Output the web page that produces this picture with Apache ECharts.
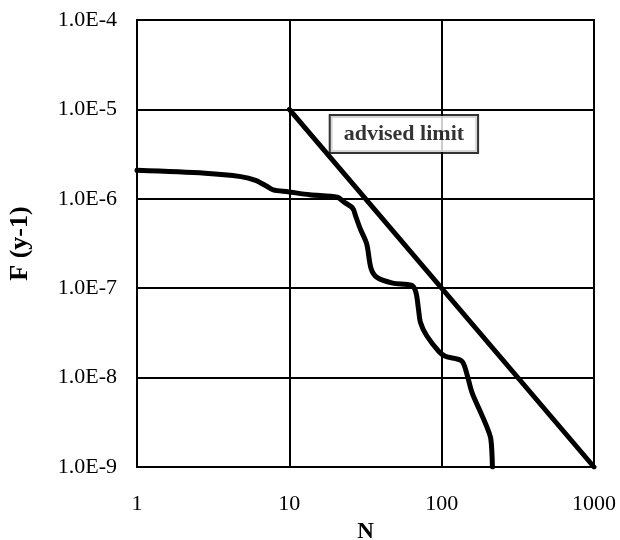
<!DOCTYPE html>
<html>
<head>
<meta charset="utf-8">
<script src="https://cdn.jsdelivr.net/npm/echarts@6/dist/echarts.min.js"></script>
<style>html,body{margin:0;padding:0;background:#fff;}#c{width:620px;height:540px;}</style>
</head>
<body>
<div id="c"></div>
<script>
// Data
var curveN = [1, 2.80, 4.80, 6.0, 7.06, 7.83, 9.79, 13.6, 20.7, 22.7, 26.1, 27.3, 29.3, 32.2, 34.4, 37.6, 47.7, 63.1, 67.6, 70.5, 72.5, 79.6, 95.9, 105.8, 135.5, 146.5, 158.3, 180.4, 198.6, 210.3, 215.4];
var curveF = [2.08e-6, 1.93e-6, 1.77e-6, 1.61e-6, 1.39e-6, 1.26e-6, 1.20e-6, 1.11e-6, 1.04e-6, 9.27e-7, 7.82e-7, 6.34e-7, 4.56e-7, 3.13e-7, 1.66e-7, 1.32e-7, 1.14e-7, 1.08e-7, 9.12e-8, 5.77e-8, 4.17e-8, 2.96e-8, 1.96e-8, 1.73e-8, 1.53e-8, 1.09e-8, 6.78e-9, 4.07e-9, 2.77e-9, 2.05e-9, 1.0e-9];
var limitN = [10, 1000];
var limitF = [1e-5, 1e-9];
var labelN = [56.5];
var labelF = [5.3e-6];
var labelText = 'advised limit';
var xTickLabels = ['1', '10', '100', '1000'];
var yTickLabels = ['1.0E-9', '1.0E-8', '1.0E-7', '1.0E-6', '1.0E-5', '1.0E-4'];

function zip(a, b) { return a.map(function (v, i) { return [v, b[i]]; }); }

var font = 'Liberation Serif';
var chart = echarts.init(document.getElementById('c'), null, {renderer: 'canvas'});
chart.setOption({
  backgroundColor: '#fff',
  animation: false,
  grid: {left: 137, right: 26, top: 20, bottom: 73, show: true, borderColor: '#000', borderWidth: 2, containLabel: false, outerBoundsMode: 'none'},
  xAxis: {
    type: 'log', logBase: 10, min: 1, max: 1000,
    name: 'N', nameLocation: 'middle', nameGap: 54,
    nameTextStyle: {fontFamily: font, fontSize: 23, fontWeight: 'bold', color: '#000'},
    axisLine: {show: true, lineStyle: {color: '#000', width: 2}},
    axisTick: {show: false},
    minorTick: {show: false},
    splitLine: {show: true, lineStyle: {color: '#000', width: 2}},
    axisLabel: {
      margin: 26, fontFamily: font, fontSize: 22, color: '#000',
      formatter: function (v) { var e = Math.round(Math.log10(v)); return xTickLabels[e] || ''; }
    }
  },
  yAxis: {
    type: 'log', logBase: 10, min: 1e-9, max: 1e-4,
    name: 'F (y-1)', nameLocation: 'middle', nameGap: 104,
    nameTextStyle: {fontFamily: font, fontSize: 26, fontWeight: 'bold', color: '#000'},
    axisLine: {show: true, lineStyle: {color: '#000', width: 2}},
    axisTick: {show: false},
    minorTick: {show: false},
    splitLine: {show: true, lineStyle: {color: '#000', width: 2}},
    axisLabel: {
      margin: 20, fontFamily: font, fontSize: 22, color: '#000',
      formatter: function (v) { var e = Math.round(Math.log10(v)) + 9; return yTickLabels[e] || ''; }
    }
  },
  series: [
    {
      type: 'line', data: zip(curveN, curveF), smooth: 0.3, symbol: 'none',
      lineStyle: {color: '#000', width: 5, join: 'round', cap: 'round'}, z: 3
    },
    {
      type: 'line', data: zip(limitN, limitF), symbol: 'none',
      lineStyle: {color: '#000', width: 5, cap: 'round'}, z: 3
    },
    {
      type: 'scatter', data: zip(labelN, labelF), symbolSize: 0, z: 4,
      label: {
        show: true, position: 'inside', formatter: labelText,
        fontFamily: font, fontSize: 22, fontWeight: 'bold', color: '#000',
        backgroundColor: '#fff', borderColor: '#000', borderWidth: 2,
        padding: [7, 13]
      }
    }
  ]
});
</script>
</body>
</html>
